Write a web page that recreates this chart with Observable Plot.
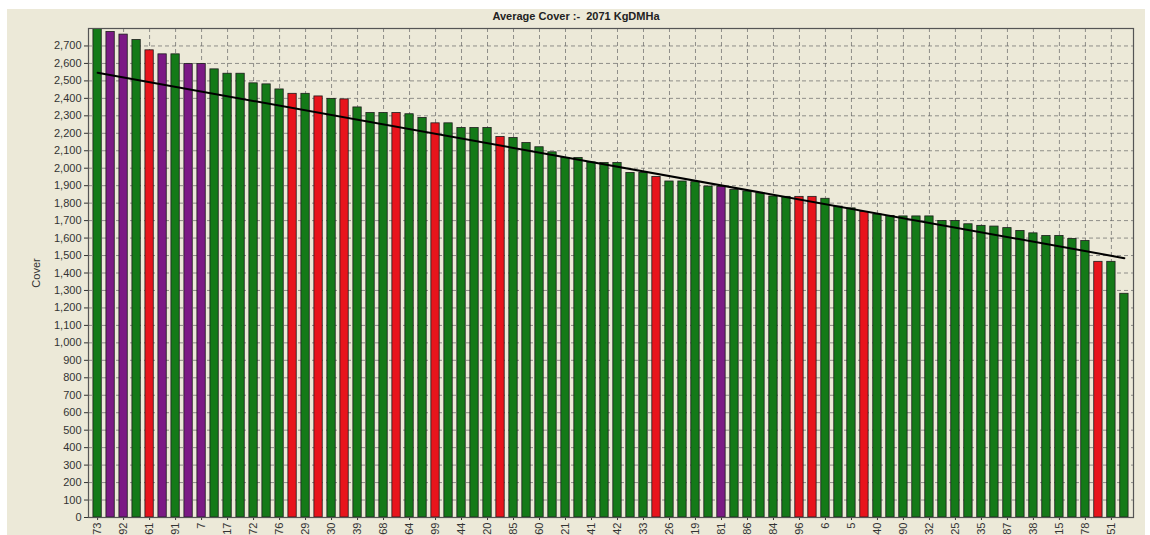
<!DOCTYPE html>
<html><head><meta charset="utf-8">
<script src="https://cdn.jsdelivr.net/npm/d3@7"></script>
<script src="https://cdn.jsdelivr.net/npm/@observablehq/plot@0.6"></script>
<style>
body{margin:0;background:#fff;width:1150px;height:535px;overflow:hidden;font-family:"Liberation Sans",Arial,sans-serif}
#panel{position:absolute;left:7px;top:9px;width:1138px;height:526px;background:#ECE9D8}
#title{position:absolute;left:0;top:1px;width:100%;text-align:center;font-weight:bold;font-size:11px;color:#222;line-height:13px;white-space:pre}
#chart{position:absolute;left:0;top:13px}
</style></head><body>
<div id="panel"><div id="title">Average Cover :-  2071 KgDMHa</div><div id="chart"></div></div>
<script>
// Cover per paddock (sorted), one entry per bar
const values = [
  2800, 2780, 2765, 2734, 2675, 2652, 2652, 2597, 2597, 2566,
  2541, 2541, 2486, 2480, 2451, 2426, 2426, 2411, 2397, 2394,
  2348, 2316, 2316, 2316, 2309, 2288, 2257, 2257, 2230, 2230,
  2230, 2179, 2173, 2144, 2120, 2091, 2059, 2059, 2033, 2030,
  2030, 1973, 1973, 1950, 1924, 1924, 1920, 1895, 1893, 1876,
  1867, 1857, 1838, 1836, 1836, 1836, 1825, 1780, 1770, 1750,
  1735, 1727, 1724, 1724, 1724, 1698, 1698, 1679, 1670, 1666,
  1657, 1641, 1627, 1612, 1612, 1595, 1583, 1464, 1464, 1281
];
// G = green, R = red, P = purple
const status = [
  "G","P","P","G","R","P","G","P","P","G",
  "G","G","G","G","G","R","G","R","G","R",
  "G","G","G","R","G","G","R","G","G","G",
  "G","R","G","G","G","G","G","G","G","G",
  "G","G","G","R","G","G","G","G","P","G",
  "G","G","G","G","R","R","G","G","G","R",
  "G","G","G","G","G","G","G","G","G","G",
  "G","G","G","G","G","G","G","R","G","G"
];
// paddock labels shown under every other bar
const tickLabels = [
  "73","92","61","91","7","17","72","76","29","30",
  "39","68","64","99","44","20","85","60","21","41",
  "42","33","26","19","81","86","84","96","6","5",
  "40","90","32","25","35","87","38","15","78","51"
];
const yTicks = d3.range(0, 2800, 100);
const trendIndex = [0, 79];
const trendValue = [2546, 1485];

const data = values.map((v, i) => ({i, v, s: status[i]}));
const trend = trendIndex.map((i, k) => ({i, v: trendValue[k]}));
const labeled = tickLabels.map((_, k) => k * 2);
const fmt = d3.format(",");

const plot = Plot.plot({
  width: 1138, height: 513,
  marginTop: 6, marginBottom: 18, marginLeft: 81, marginRight: 12,
  style: {background: "transparent", fontFamily: "Liberation Sans, Arial, sans-serif", fontSize: "11px", color: "#333"},
  x: {type: "band", domain: d3.range(values.length), paddingInner: 0.36, paddingOuter: 0.38, axis: null},
  y: {domain: [0, 2800], axis: null},
  color: {domain: ["G","R","P"], range: ["#147a18", "#e8141c", "#7b1a85"]},
  marks: [
    Plot.gridY(yTicks.slice(1), {stroke: "#666", strokeOpacity: 0.7, strokeDasharray: "4,3"}),
    Plot.gridX(labeled, {stroke: "#666", strokeOpacity: 0.7, strokeDasharray: "4,3"}),
    Plot.barY(data, {x: "i", y: "v", fill: "s", stroke: "#1c1c1c", strokeWidth: 0.8, clip: true}),
    Plot.line(trend, {x: "i", y: "v", stroke: "#000", strokeWidth: 2}),
    Plot.axisY(yTicks, {tickFormat: d => fmt(d), tickSize: 4, tickPadding: 3, label: "Cover", labelAnchor: "center", labelArrow: "none", labelOffset: 56, stroke: "#333"}),
    Plot.axisX(labeled, {tickFormat: i => tickLabels[i / 2], tickRotate: -90, tickSize: 3, tickPadding: 2, label: null, stroke: "#333"}),
    Plot.frame({stroke: "#555", strokeWidth: 1.2})
  ]
});
document.getElementById("chart").appendChild(plot);
</script>
</body></html>
